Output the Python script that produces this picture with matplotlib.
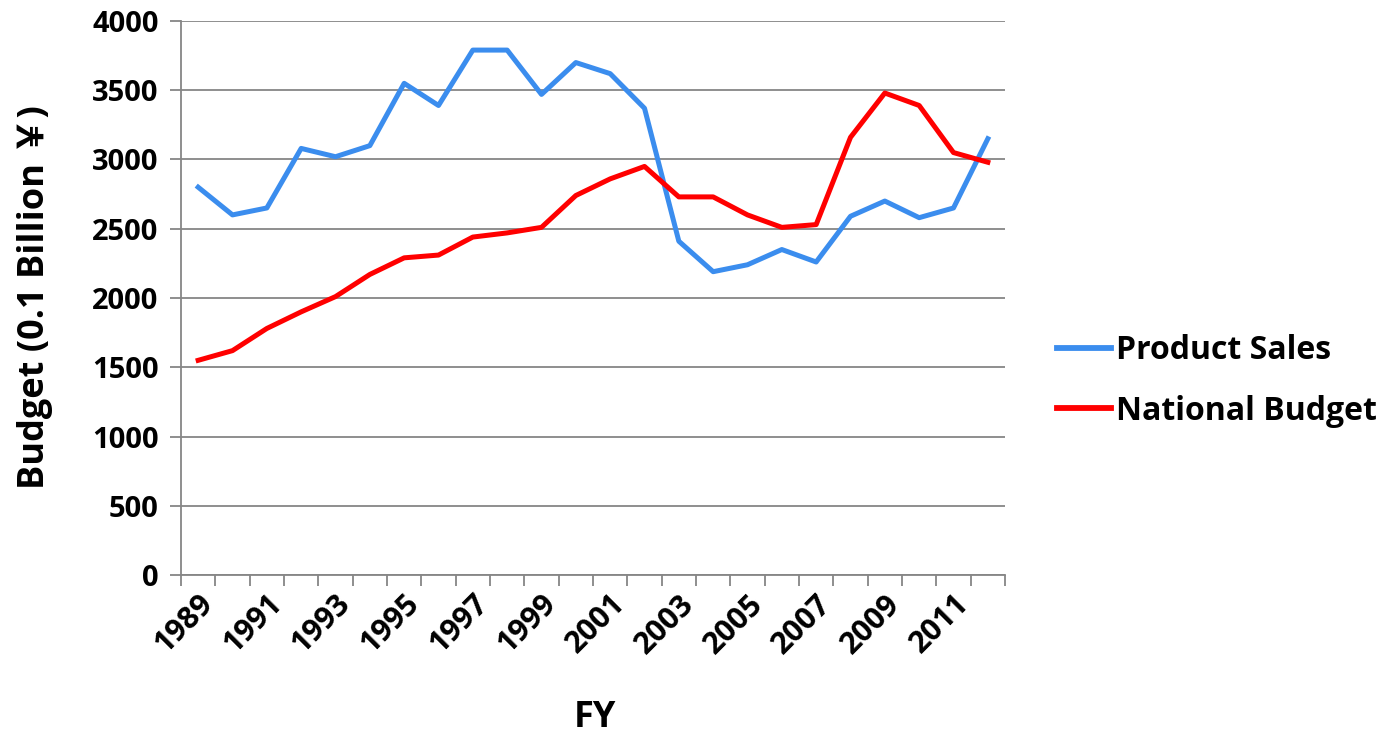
import matplotlib
matplotlib.use("Agg")
import matplotlib.pyplot as plt
import numpy as np
from matplotlib.ticker import FixedLocator

years = list(range(1989, 2013))
product_sales = [2800, 2600, 2650, 3080, 3020, 3100, 3550, 3390, 3790, 3790, 3470, 3700,
                 3620, 3370, 2410, 2190, 2240, 2350, 2260, 2590, 2700, 2580, 2650, 3150]
national_budget = [1550, 1620, 1780, 1900, 2010, 2170, 2290, 2310, 2440, 2470, 2510, 2740,
                   2860, 2950, 2730, 2730, 2600, 2510, 2530, 3160, 3480, 3390, 3050, 2980]
y_ticks = [0, 500, 1000, 1500, 2000, 2500, 3000, 3500, 4000]

plt.rcParams['font.family'] = ['Open Sans', 'Noto Sans CJK SC', 'DejaVu Sans']
plt.rcParams['font.weight'] = 'bold'

W, H = 1385, 735
fig = plt.figure(figsize=(W/100, H/100), dpi=100)
ax = fig.add_axes([181/W, 1-575/H, (1005-181)/W, (575-21)/H])

x = np.arange(len(years))
ax.plot(x, product_sales, color='#3B8DEE', lw=3.6, label='Product Sales', solid_joinstyle='round')
ax.plot(x, national_budget, color='#FF0000', lw=3.6, label='National Budget', solid_joinstyle='round')

ax.set_xlim(-0.5, len(years) - 0.5)
ax.set_ylim(0, 4000)

grid_c = '#868686'
ax.set_yticks(y_ticks)
ax.set_yticklabels([str(v) for v in y_ticks], fontsize=21, fontweight='bold')
ax.yaxis.grid(True, color=grid_c, lw=1.3)
ax.set_axisbelow(True)

ax.set_xticks(x[::2])
ax.set_xticklabels([str(y) for y in years[::2]], rotation=45, ha='right', rotation_mode='anchor',
                   fontsize=22, fontweight='bold')
ax.tick_params(axis='x', length=0, pad=10)
ax.xaxis.set_minor_locator(FixedLocator(np.arange(-0.5, len(years), 1.0)))
ax.tick_params(axis='x', which='minor', length=8, width=1.3, color=grid_c, direction='out')
ax.tick_params(axis='y', length=8, width=1.3, color=grid_c, direction='out', pad=8)

for s in ['top', 'right']:
    ax.spines[s].set_visible(False)
for s in ['left', 'bottom']:
    ax.spines[s].set_color(grid_c)
    ax.spines[s].set_linewidth(1.3)

ax.set_xlabel('FY', fontsize=26, fontweight='bold')
ax.xaxis.set_label_coords((595-181)/824, (575-718)/554)
ax.xaxis.label.set_va('center')
ax.set_ylabel('Budget (0.1 Billion ￥)', fontsize=26, fontweight='bold')
ax.yaxis.set_label_coords((35-181)/824, (575-297)/554)
ax.yaxis.label.set_va('center')

leg = fig.legend(loc='center left', bbox_to_anchor=(1057/W, 1-381/H), frameon=False, fontsize=23,
                 handlelength=1.7, handletextpad=0.15, labelspacing=0.85, borderpad=0, borderaxespad=0)
for t in leg.get_texts():
    t.set_fontweight('bold')
for l in leg.get_lines():
    l.set_linewidth(4.2)

fig.savefig('out.png', dpi=100, facecolor='white')
